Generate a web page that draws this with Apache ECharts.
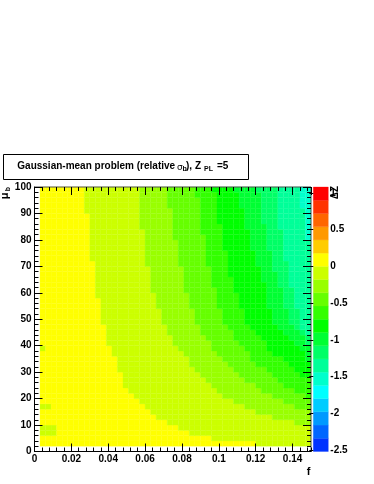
<!DOCTYPE html>
<html><head><meta charset="utf-8">
<script src="https://cdn.jsdelivr.net/npm/echarts@6/dist/echarts.min.js"></script>
<style>html,body{margin:0;padding:0;background:#fff}#c{width:374px;height:484px}</style>
</head><body><div id="c"></div>
<script>
// ---- data ----
const fBinWidth = 0.003;      // bin width along f
const muBinWidth = 2;         // bin width along mu_b
const nCols = 49, nRows = 49; // bins 1..49 (bin 0 is empty in the picture)
// for each mu_b row (bottom to top): first column index where each successive colour level begins
const rowStarts = [
 [40],[32],[28],[26],[24,47],[22,43],[21,40],[20,38,47],[19,36,45],[18,34,43,49],
 [17,33,41,47],[16,32,40,45],[16,31,38,44],[16,30,37,43,48],[15,29,36,42,47],[15,28,35,40,46],
 [15,28,34,39,45,49],[14,27,33,39,43,49],[14,26,32,38,42,48],[13,25,32,37,42,47,49],
 [13,25,31,36,41,46,49],[13,24,30,36,40,45,48,49],[13,24,30,35,39,44,47,48],[12,23,29,34,38,43,46,48],
 [12,23,29,34,38,43,46,48],[12,23,29,34,38,43,46,48],[12,22,28,33,37,42,45,47],[12,22,28,33,37,42,45,47],
 [11,22,28,33,37,42,45,47],[11,21,27,33,36,42,45,47],[11,21,27,32,36,42,44,46],[11,21,27,32,36,41,44,46],
 [11,21,27,32,35,41,44,46],[11,21,27,32,35,41,43,46],[11,20,26,31,35,40,43,46],[10,20,26,31,35,40,43,45],
 [10,20,26,31,35,40,43,45],[10,20,26,31,34,39,42,45],[10,20,26,31,34,39,42,45],[10,20,25,31,34,39,42,45,49],
 [10,20,25,30,34,39,42,45,49],[10,19,25,30,34,38,42,44,49],[10,19,25,30,33,38,41,44,49],[10,19,25,30,33,38,41,44,49],
 [9,19,25,30,33,38,41,44,49],[9,19,24,30,33,37,41,44,48],[9,19,24,30,33,37,41,44,48],[9,19,24,29,33,37,41,44,48],
 [9,19,24,29,32,36,40,44,48]
];
// isolated cells at the low-f edge: [row, colFrom, colTo, level]
const edgePatches = [[3,1,3,1],[4,1,3,1],[8,1,2,1],[19,1,1,1]];
// colour scale
const zMin = -2.52, zMax = 1.08;
const paletteColors = ['#0033ff','#0066ff','#0099ff','#00ccff','#00ffff','#00ffcc','#00ff99','#00ff66','#00ff33','#00ff00',
  '#33ff00','#66ff00','#99ff00','#ccff00','#ffff00','#ffcc00','#ff9900','#ff6600','#ff3300','#ff0000'];
const zeroBand = 14; // band index of the level just above 0
const cbTicks = [-2.5,-2,-1.5,-1,-0.5,0,0.5,1];

// ---- build cells ----
const nBands = paletteColors.length;
const bw = (zMax - zMin) / nBands;
function levelValue(L) { return zMin + (zeroBand - L + 0.5) * bw; }
const cells = [];
for (let r = 1; r <= nRows; r++) {
  const starts = rowStarts[r - 1];
  for (let c = 1; c <= nCols; c++) {
    let L = 0;
    for (const s of starts) if (c >= s) L++;
    for (const p of edgePatches) if (p[0] === r && c >= p[1] && c <= p[2]) L = p[3];
    cells.push([c * fBinWidth, (c + 1) * fBinWidth, r * muBinWidth, (r + 1) * muBinWidth, levelValue(L)]);
  }
}
const bandData = paletteColors.map((col, b) => [b, zMin + b * bw, zMin + (b + 1) * bw]);

const FONT = 'Liberation Sans';
const G = {left: 34.5, top: 187, width: 276.5, height: 264.5};
const lab = {fontFamily: FONT, fontWeight: 'bold', fontSize: 10, color: '#000'};
const tickStyle = {color: '#000', width: 1};

function xAx(grid, pos, interval, len, labels) {
  return {gridIndex: grid, type: 'value', position: pos, min: 0, max: 0.15, interval: interval, z: 10,
    axisLine: {show: labels, onZero: false, lineStyle: {color: '#000'}},
    axisTick: {show: true, inside: true, length: len, lineStyle: tickStyle},
    axisLabel: labels ? Object.assign({show: true, margin: 3, showMaxLabel: false}, lab) : {show: false},
    splitLine: {show: false}};
}
function yAx(grid, pos, interval, len, labels) {
  return {gridIndex: grid, type: 'value', position: pos, min: 0, max: 100, interval: interval, z: 10,
    axisLine: {show: labels, onZero: false, lineStyle: {color: '#000'}},
    axisTick: {show: true, inside: true, length: len, lineStyle: tickStyle},
    axisLabel: labels ? Object.assign({show: true, margin: 3}, lab) : {show: false},
    splitLine: {show: false}};
}

const chart = echarts.init(document.getElementById('c'), null, {renderer: 'canvas'});
chart.setOption({
  animation: false,
  backgroundColor: '#fff',
  grid: [
    Object.assign({show: true, borderColor: '#555', borderWidth: 1, backgroundColor: 'transparent', z: 9}, G),
    Object.assign({}, G), Object.assign({}, G), Object.assign({}, G),
    {left: 313.3, top: 187, width: 15, height: 264.5}
  ],
  xAxis: [
    xAx(0, 'bottom', 0.02, 8, true),
    xAx(1, 'bottom', 0.004, 4, false),
    xAx(2, 'top', 0.02, 8, false),
    xAx(3, 'top', 0.004, 4, false),
    {gridIndex: 4, type: 'value', min: 0, max: 1, show: false}
  ],
  yAxis: [
    yAx(0, 'left', 10, 8, true),
    yAx(1, 'left', 2, 4, false),
    yAx(2, 'right', 10, 8, false),
    yAx(3, 'right', 2, 4, false),
    {gridIndex: 4, type: 'value', position: 'right', min: zMin, max: zMax, z: 10,
      axisLine: {show: false},
      axisTick: {show: true, inside: true, length: 4, customValues: cbTicks, lineStyle: tickStyle},
      axisLabel: Object.assign({show: true, margin: 2, customValues: cbTicks}, lab),
      splitLine: {show: false}}
  ],
  visualMap: {
    type: 'piecewise', show: false, dimension: 4, seriesIndex: 0,
    pieces: paletteColors.map((col, b) => ({gte: zMin + b * bw, lt: zMin + (b + 1) * bw, color: col}))
  },
  series: [
    {type: 'custom', xAxisIndex: 0, yAxisIndex: 0, data: cells, encode: {x: [0, 1], y: [2, 3]}, silent: true,
      renderItem: function (params, api) {
        const a = api.coord([api.value(0), api.value(3)]);
        const b = api.coord([api.value(1), api.value(2)]);
        return {type: 'rect', shape: {x: a[0], y: a[1], width: b[0] - a[0], height: b[1] - a[1]},
          style: {fill: api.visual('color'), stroke: api.visual('color'), lineWidth: 0.3}};
      }},
    {type: 'custom', xAxisIndex: 4, yAxisIndex: 4, data: bandData, encode: {y: [1, 2]}, silent: true,
      renderItem: function (params, api) {
        const a = api.coord([0, api.value(2)]);
        const b = api.coord([1, api.value(1)]);
        return {type: 'rect', shape: {x: a[0], y: a[1], width: b[0] - a[0], height: b[1] - a[1]},
          style: {fill: paletteColors[api.value(0)], stroke: paletteColors[api.value(0)], lineWidth: 0.3}};
      }}
  ],
  graphic: [
    {type: 'rect', shape: {x: 3.5, y: 154.5, width: 245, height: 25}, style: {fill: '#fff', stroke: '#000', lineWidth: 1}},
    {type: 'text', x: 17.3, y: 166.5, style: {text: 'Gaussian-mean problem (relative ', font: 'bold 10px "Liberation Sans"', fill: '#000', verticalAlign: 'middle'}},
    {type: 'text', x: 177, y: 167.5, style: {text: 'σ', font: '9px "DejaVu Sans"', fill: '#000', verticalAlign: 'middle'}},
    {type: 'text', x: 182.5, y: 169, style: {text: 'b', font: 'bold 7px "Liberation Sans"', fill: '#000', verticalAlign: 'middle'}},
    {type: 'text', x: 186, y: 166.5, style: {text: '), Z', font: 'bold 10px "Liberation Sans"', fill: '#000', verticalAlign: 'middle'}},
    {type: 'text', x: 204, y: 169, style: {text: 'PL', font: 'bold 7px "Liberation Sans"', fill: '#000', verticalAlign: 'middle'}},
    {type: 'text', x: 217, y: 166.5, style: {text: '=5', font: 'bold 10px "Liberation Sans"', fill: '#000', verticalAlign: 'middle'}},
    {type: 'text', x: 5, y: 196, rotation: Math.PI / 2, style: {text: 'μ', font: 'bold 11px "Liberation Sans"', fill: '#000', align: 'center', verticalAlign: 'middle'}},
    {type: 'text', x: 8, y: 189, rotation: Math.PI / 2, style: {text: 'b', font: 'bold 7px "Liberation Sans"', fill: '#000', align: 'center', verticalAlign: 'middle'}},
    {type: 'text', x: 308.5, y: 471.5, style: {text: 'f', font: 'bold 11px "Liberation Sans"', fill: '#000', align: 'center', verticalAlign: 'middle'}},
    {type: 'text', x: 335.5, y: 192.5, rotation: Math.PI / 2, style: {text: 'ΔZ', font: 'bold 10px "Liberation Sans"', fill: '#000', align: 'center', verticalAlign: 'middle'}}
  ]
});
</script></body></html>
